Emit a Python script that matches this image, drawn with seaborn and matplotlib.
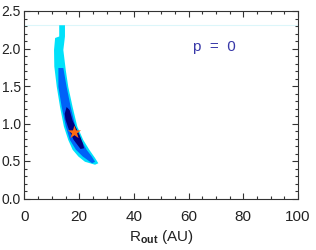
import numpy as np
import pandas as pd
import matplotlib
matplotlib.use('Agg')
import matplotlib.pyplot as plt
import seaborn as sns
from matplotlib.ticker import MultipleLocator

# Confidence region outlines (R_out in AU, y value)
outer_x = [12.7, 14.8, 14.8, 14.2, 15.1, 16.0, 17.6, 19.3, 21.5, 23.7, 25.8, 27.0,
           25.8, 22.1, 19.7, 17.6, 16.0, 14.4, 13.0, 11.8, 10.9, 10.8, 11.2, 12.7]
outer_y = [2.31, 2.31, 2.16, 1.98, 1.71, 1.49, 1.22, 0.96, 0.78, 0.65, 0.54, 0.47,
           0.45, 0.49, 0.56, 0.65, 0.78, 0.96, 1.22, 1.49, 1.76, 1.98, 2.14, 2.16]

middle_x = [12.4, 14.2, 15.4, 16.9, 18.6, 20.7, 22.7, 24.6, 25.8,
            24.7, 21.3, 18.8, 16.6, 15.1, 13.6, 12.4]
middle_y = [1.74, 1.74, 1.49, 1.22, 0.96, 0.78, 0.65, 0.56, 0.49,
            0.47, 0.56, 0.65, 0.78, 0.96, 1.22, 1.49]

inner_x = [15.4, 16.5, 17.6, 18.6, 20.0, 21.3, 21.8, 20.5, 18.0, 16.2, 15.0, 14.7]
inner_y = [1.22, 1.18, 1.04, 0.96, 0.86, 0.74, 0.67, 0.66, 0.78, 0.92, 1.05, 1.13]

best_x = [18.2]
best_y = [0.89]

grid_top = 2.31
label_text = 'p  =  0'

sns.set_style('ticks')
plt.rcParams['font.family'] = ['Liberation Sans', 'DejaVu Sans']
plt.rcParams['mathtext.fontset'] = 'custom'
plt.rcParams['mathtext.rm'] = 'Liberation Sans'
plt.rcParams['mathtext.bf'] = 'Liberation Sans:bold'

fig = plt.figure(figsize=(3.16, 2.5), dpi=100)
ax = fig.add_axes([0.0775, 0.206, 0.8655, 0.75])

ax.axhline(grid_top, color='#dcf6fa', lw=0.8, zorder=1)
ax.fill(outer_x, outer_y, color='#00e1fa', lw=0, zorder=2)
ax.fill(middle_x, middle_y, color='#0062f8', lw=0, zorder=3)
ax.fill(inner_x, inner_y, color='#00007e', lw=0, zorder=4)

star = pd.DataFrame({'x': best_x, 'y': best_y})
sns.scatterplot(data=star, x='x', y='y', marker='*', s=100, color='#ff6a10',
                linewidth=0, ax=ax, zorder=5)

ax.text(69.6, 2.02, label_text, color='#3838a8', fontsize=11,
        ha='center', va='center')

ax.set_xlim(0, 100)
ax.set_ylim(0, 2.5)
ax.set_xticks([0, 20, 40, 60, 80, 100])
ax.set_yticks([0.0, 0.5, 1.0, 1.5, 2.0, 2.5])
ax.set_yticklabels(['0.0', '0.5', '1.0', '1.5', '2.0', '2.5'])
ax.xaxis.set_minor_locator(MultipleLocator(5))
ax.yaxis.set_minor_locator(MultipleLocator(0.1))
ax.tick_params(which='both', direction='in', top=True, right=True,
               color='#333333', width=0.8, labelcolor='#222222')
ax.tick_params(which='major', length=4.5)
ax.tick_params(which='minor', length=2.2)
ax.tick_params(axis='x', which='major', pad=8, labelsize=11)
# y labels are clipped at the left edge in the original; keep them just inside
ax.tick_params(axis='y', which='major', pad=2.5, labelsize=10)
for sp in ax.spines.values():
    sp.set_color('#333333')
    sp.set_linewidth(0.8)

ax.set_xlabel(r'R$_{\mathbf{out}}$ (AU)', fontsize=11, color='#222222', labelpad=3)
ax.set_ylabel('')

fig.savefig('out.png', dpi=100)
